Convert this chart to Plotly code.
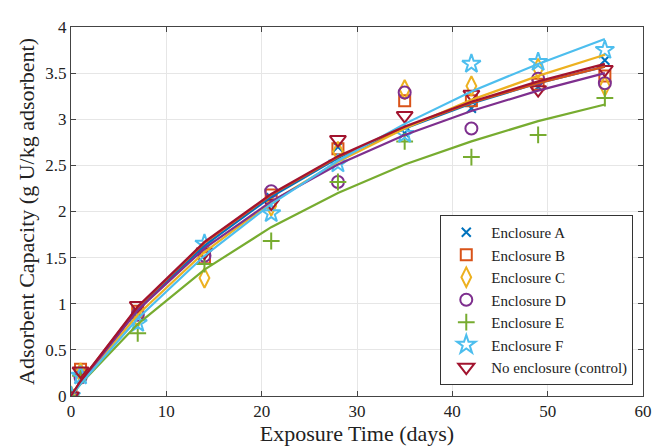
import plotly.graph_objects as go

days = [0, 1, 7, 14, 21, 28, 35, 42, 49, 56]

names = ["Enclosure A", "Enclosure B", "Enclosure C", "Enclosure D",
         "Enclosure E", "Enclosure F", "No enclosure (control)"]

# measured points
pts_A = [0, 0.25, 0.90, 1.60, 2.15, 2.70, 2.85, 3.12, 3.35, 3.64]
pts_B = [0, 0.29, 0.92, 1.50, 2.18, 2.68, 3.20, 3.20, 3.38, 3.47]
pts_C = [0, 0.25, 0.85, 1.28, 2.06, 2.65, 3.32, 3.36, 3.55, 3.36]
pts_D = [0, 0.20, 0.88, 1.52, 2.22, 2.32, 3.29, 2.90, 3.44, 3.39]
pts_E = [0, 0.22, 0.68, 1.43, 1.68, 2.32, 2.76, 2.59, 2.83, 3.23]
pts_F = [0, 0.22, 0.79, 1.65, 1.98, 2.52, 2.84, 3.60, 3.62, 3.75]
pts_N = [0, 0.27, 0.98, 1.56, 2.09, 2.78, 3.04, 3.27, 3.32, 3.54]

# fitted curves
fit_A = [0, 0.15, 0.94, 1.63, 2.16, 2.58, 2.90, 3.17, 3.39, 3.57]
fit_B = [0, 0.16, 0.96, 1.66, 2.18, 2.59, 2.91, 3.18, 3.39, 3.57]
fit_C = [0, 0.14, 0.88, 1.56, 2.10, 2.54, 2.90, 3.21, 3.47, 3.70]
fit_D = [0, 0.15, 0.93, 1.60, 2.11, 2.51, 2.83, 3.09, 3.31, 3.50]
fit_E = [0, 0.13, 0.78, 1.37, 1.83, 2.20, 2.51, 2.76, 2.98, 3.16]
fit_F = [0, 0.13, 0.84, 1.52, 2.08, 2.55, 2.95, 3.30, 3.60, 3.87]
fit_N = [0, 0.16, 0.97, 1.67, 2.19, 2.60, 2.92, 3.19, 3.41, 3.60]

x_ticks = [0, 10, 20, 30, 40, 50, 60]
y_ticks = [0, 0.5, 1, 1.5, 2, 2.5, 3, 3.5, 4]

colors = ["#0072BD", "#D95319", "#EDB120", "#7E2F8E", "#77AC30", "#4DBEEE", "#A2142F"]
symbols = ["x-thin-open", "square-open", "diamond-tall-open", "circle-open",
           "cross-thin-open", "star-open", "triangle-down-open"]
sizes = [9, 11, 14, 12, 12, 14, 14]
pts = [pts_A, pts_B, pts_C, pts_D, pts_E, pts_F, pts_N]
fits = [fit_A, fit_B, fit_C, fit_D, fit_E, fit_F, fit_N]

fig = go.Figure()
for i in range(7):
    fig.add_trace(go.Scatter(x=days, y=pts[i], mode="markers", name=names[i],
                             marker=dict(symbol=symbols[i], size=sizes[i], color=colors[i],
                                         line=dict(width=2, color=colors[i]))))
for i in range(7):
    fig.add_trace(go.Scatter(x=days, y=fits[i], mode="lines", showlegend=False,
                             line=dict(color=colors[i], width=2.2), hoverinfo="skip"))

font = "Liberation Serif, Times New Roman, serif"
fig.update_layout(
    width=655, height=446,
    margin=dict(l=71, r=12, t=27, b=50),
    paper_bgcolor="white", plot_bgcolor="white",
    font=dict(family=font, size=17, color="#222"),
    legend=dict(x=0.983, y=0.03, xanchor="right", yanchor="bottom",
                bordercolor="#333", borderwidth=1, bgcolor="white",
                font=dict(family=font, size=15, color="#222"),
                tracegroupgap=0, itemwidth=40),
    xaxis=dict(range=[0, 60], tickvals=x_ticks, ticks="inside", ticklen=5,
               showgrid=True, gridcolor="#e6e6e6", zeroline=False, automargin=False,
               ticklabeloverflow="allow",
               showline=True, linecolor="#444", linewidth=1, mirror="ticks",
               tickcolor="#444", tickfont=dict(family=font, size=17),
               title=dict(text="Exposure Time (days)", font=dict(family=font, size=22), standoff=2)),
    yaxis=dict(range=[0, 4], tickvals=y_ticks, ticks="inside", ticklen=5,
               showgrid=True, gridcolor="#e6e6e6", zeroline=False, automargin=False,
               ticklabeloverflow="allow",
               showline=True, linecolor="#444", linewidth=1, mirror="ticks",
               tickcolor="#444", tickfont=dict(family=font, size=17),
               title=dict(text="Adsorbent Capacity (g U/kg adsorbent)", font=dict(family=font, size=22), standoff=4)),
)

fig.write_html("out.html", config={"displayModeBar": False},
               post_script="document.body.style.margin='0';document.body.style.overflow='hidden';")
